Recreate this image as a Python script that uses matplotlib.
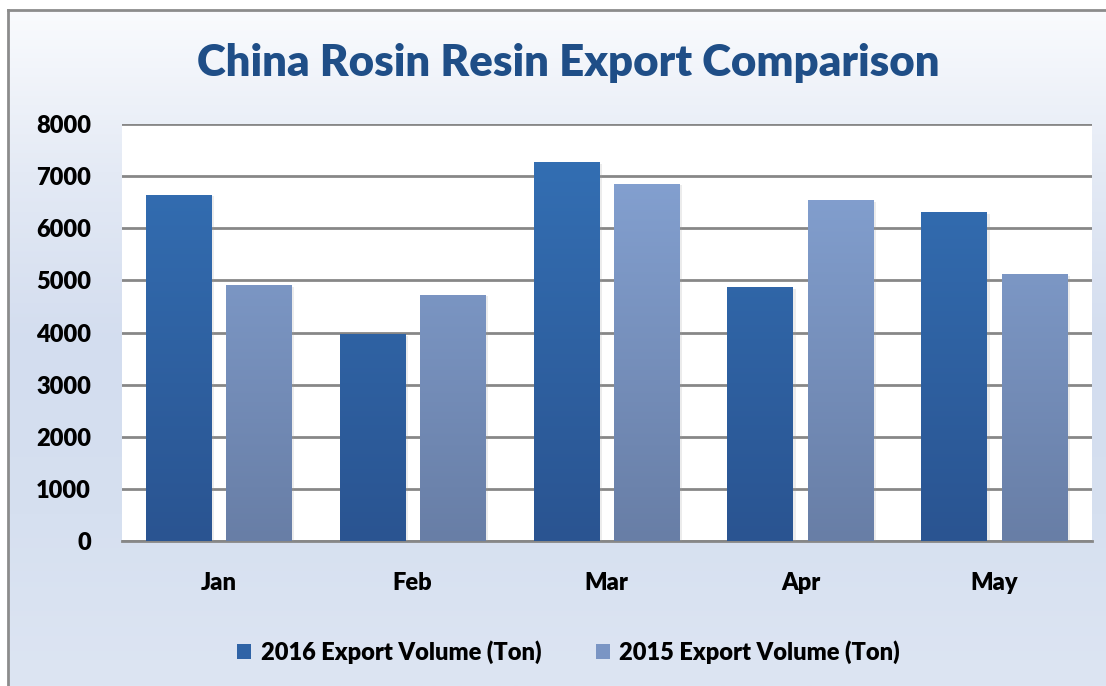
import numpy as np
import matplotlib
matplotlib.use('Agg')
import matplotlib.pyplot as plt
from matplotlib.colors import LinearSegmentedColormap
from matplotlib.patches import Rectangle, Patch
import matplotlib.patheffects as pe

plt.rcParams['font.family'] = ['Lato', 'DejaVu Sans']

months = ['Jan', 'Feb', 'Mar', 'Apr', 'May']
vol_2016 = [6640, 3970, 7270, 4870, 6310]
vol_2015 = [4910, 4720, 6850, 6540, 5120]
series_names = ['2016 Export Volume (Ton)', '2015 Export Volume (Ton)']

fig = plt.figure(figsize=(11.06, 6.86), dpi=100)

# figure background gradient inside a grey frame
bg = fig.add_axes([0, 0, 1, 1], zorder=-10)
bg_cmap = LinearSegmentedColormap.from_list('bg', ['#fbfcfe', '#e4eaf5', '#d3ddef', '#d6e0f0', '#dde5f3'])
grad = np.linspace(0, 1, 256).reshape(-1, 1)
bg.imshow(grad, aspect='auto', cmap=bg_cmap, extent=[0, 1, 0, 1])
bg.set_xlim(0, 1)
bg.set_ylim(0, 1)
bg.axis('off')
bg.add_patch(Rectangle((0, 0), 8 / 1106, 1, color='white', zorder=2))
bg.add_patch(Rectangle((0, 1 - 10 / 686), 1, 10 / 686, color='white', zorder=2))
bg.plot([8 / 1106, 8 / 1106], [0, 1 - 10 / 686], color='#8c8c8c', lw=2, zorder=3)
bg.plot([8 / 1106, 1], [1 - 10 / 686, 1 - 10 / 686], color='#8c8c8c', lw=2, zorder=3)

ax = fig.add_axes([0.110, 0.2114, 0.877, 0.6076])
ax.set_facecolor('white')

x = np.arange(len(months))
w = 0.34
off = 0.207

cm16 = LinearSegmentedColormap.from_list('c16', ['#2a5491', '#3471b6'])
cm15 = LinearSegmentedColormap.from_list('c15', ['#687ea6', '#87a5d6'])
shadow = [pe.SimplePatchShadow(offset=(1.5, -1), shadow_rgbFace='#a0a0a0', alpha=0.2), pe.Normal()]

def grad_bars(xs, vals, cmap):
    bars = ax.bar(xs, vals, width=w, color='none', zorder=3)
    for b in bars:
        b.set_path_effects(shadow)
        bx = b.get_x()
        bw = b.get_width()
        g = np.linspace(0, 1, 256).reshape(-1, 1)
        im = ax.imshow(g, aspect='auto', cmap=cmap, origin='lower',
                       extent=[bx, bx + bw, 0, 8000], zorder=4)
        im.set_clip_path(b)
    return bars

grad_bars(x - off, vol_2016, cm16)
grad_bars(x + off, vol_2015, cm15)

ax.set_xlim(-0.5, len(months) - 0.5)
ax.set_ylim(0, 8000)
ax.set_yticks(np.arange(0, 8001, 1000))
ax.yaxis.grid(True, color='#878787', lw=2)
ax.set_axisbelow(True)
for s in ['left', 'right', 'top']:
    ax.spines[s].set_visible(False)
ax.spines['bottom'].set_color('#878787')
ax.spines['bottom'].set_linewidth(2)
ax.tick_params(axis='both', length=0, labelsize=17)
ax.tick_params(axis='y', pad=22)
ax.tick_params(axis='x', pad=22)
ax.set_xticks(x)
ax.set_xticklabels(months, fontweight='heavy')
for lab in ax.get_yticklabels():
    lab.set_fontweight('heavy')

fig.text(0.5135, 0.908, 'China Rosin Resin Export Comparison', ha='center', va='center',
         fontsize=31.5, fontweight='heavy', color='#1f4e87')

handles = [Patch(facecolor='#2f63a6'), Patch(facecolor='#7a95c4')]
fig.legend(handles, series_names, loc='center', bbox_to_anchor=(0.514, 0.05), ncol=2,
           frameon=False, prop={'weight': 'heavy', 'size': 17}, handlelength=0.6,
           handleheight=0.6, handletextpad=0.4, columnspacing=2.3)

fig.savefig('out.png', dpi=100)
